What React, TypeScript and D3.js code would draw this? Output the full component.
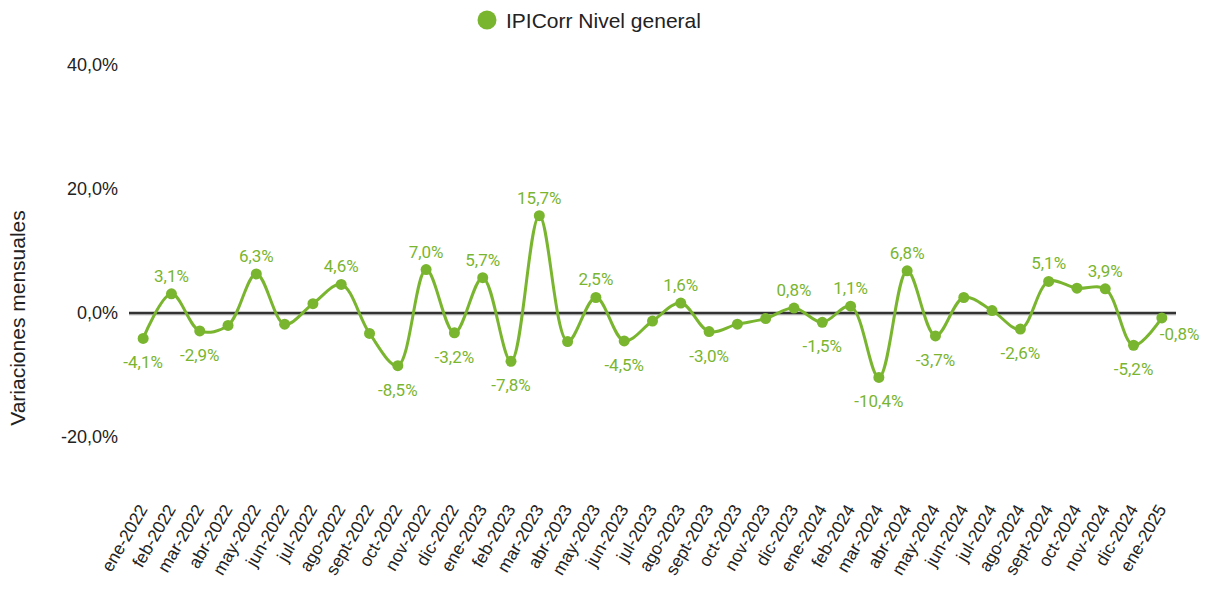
import React from "react";
import * as d3 from "d3";

const months: string[] = [
  "ene-2022","feb-2022","mar-2022","abr-2022","may-2022","jun-2022","jul-2022","ago-2022","sept-2022","oct-2022","nov-2022","dic-2022",
  "ene-2023","feb-2023","mar-2023","abr-2023","may-2023","jun-2023","jul-2023","ago-2023","sept-2023","oct-2023","nov-2023","dic-2023",
  "ene-2024","feb-2024","mar-2024","abr-2024","may-2024","jun-2024","jul-2024","ago-2024","sept-2024","oct-2024","nov-2024","dic-2024",
  "ene-2025",
];

const values: number[] = [
  -4.1, 3.1, -2.9, -2.0, 6.3, -1.8, 1.5, 4.6, -3.3, -8.5, 7.0, -3.2,
  5.7, -7.8, 15.7, -4.6, 2.5, -4.5, -1.3, 1.6, -3.0, -1.8, -0.9, 0.8,
  -1.5, 1.1, -10.4, 6.8, -3.7, 2.5, 0.4, -2.6, 5.1, 4.0, 3.9, -5.2,
  -0.8,
];

const showLabel: boolean[] = [
  true, true, true, false, true, false, false, true, false, true, true, true,
  true, true, true, false, true, true, false, true, true, false, false, true,
  true, true, true, true, true, false, false, true, true, false, true, true,
  true,
];

const yTicks: number[] = [-20, 0, 20, 40];
const seriesName = "IPICorr Nivel general";
const yTitle = "Variaciones mensuales";

const GREEN = "#7ab52f";

const fmt = (v: number) => v.toFixed(1).replace(".", ",") + "%";

export default function App() {
  const W = 1212, H = 590;
  const x = d3.scalePoint<string>().domain(months).range([129, 1176]).padding(0.5);
  const y = d3.scaleLinear().domain([-20, 40]).range([437, 65]);

  const pts: [number, number][] = values.map((v, i) => [x(months[i])!, y(v)]);
  const line = d3.line().curve(d3.curveCatmullRom.alpha(0.5))(pts) || "";

  return (
    <svg width={W} height={H} style={{ position: "absolute", left: 0, top: 0 }}>
      <rect width={W} height={H} fill="#fff" />
      {/* legend */}
      <circle cx={487} cy={20} r={9.5} fill={GREEN} />
      <text x={506} y={28} fontFamily="Liberation Sans, Arial, sans-serif" fontSize={21} fill="#222">
        {seriesName}
      </text>
      {/* y title */}
      <text
        transform={`translate(25,${318}) rotate(-90)`}
        textAnchor="middle"
        fontFamily="Liberation Sans, Arial, sans-serif"
        fontSize={21}
        fill="#222"
      >
        {yTitle}
      </text>
      {/* y ticks */}
      {yTicks.map((t) => (
        <text
          key={t}
          x={118}
          y={y(t)}
          dy="0.35em"
          textAnchor="end"
          fontFamily="Liberation Sans, Arial, sans-serif"
          fontSize={18}
          fill="#222"
        >
          {fmt(t)}
        </text>
      ))}
      {/* zero line */}
      <line x1={129} x2={1176} y1={y(0) + 1.5} y2={y(0) + 1.5} stroke="#ccc" strokeWidth={2} />
      <line x1={129} x2={1176} y1={y(0)} y2={y(0)} stroke="#333" strokeWidth={2.5} />
      {/* series */}
      <path d={line} fill="none" stroke={GREEN} strokeWidth={3} />
      {pts.map(([px, py], i) => (
        <circle key={i} cx={px} cy={py} r={5.5} fill={GREEN} />
      ))}
      {/* data labels */}
      {values.map((v, i) => {
        if (!showLabel[i]) return null;
        const px = pts[i][0], py = pts[i][1];
        const last = i === values.length - 1;
        if (last) {
          return (
            <text key={i} x={px - 2} y={py + 16} dy="0.35em" textAnchor="start"
              fontFamily="Roboto, sans-serif" fontSize={17} fill={GREEN}>
              {fmt(v)}
            </text>
          );
        }
        const dy = v >= 0 ? -18 : 24;
        return (
          <text key={i} x={px} y={py + dy} dy="0.35em" textAnchor="middle"
            fontFamily="Roboto, sans-serif" fontSize={17} fill={GREEN}>
            {fmt(v)}
          </text>
        );
      })}
      {/* x labels */}
      {months.map((m) => (
        <text
          key={m}
          transform={`translate(${x(m)! + 5},${509}) rotate(-60)`}
          textAnchor="end"
          fontFamily="Liberation Sans, Arial, sans-serif"
          fontSize={17.5}
          fill="#222"
        >
          {m}
        </text>
      ))}
    </svg>
  );
}
